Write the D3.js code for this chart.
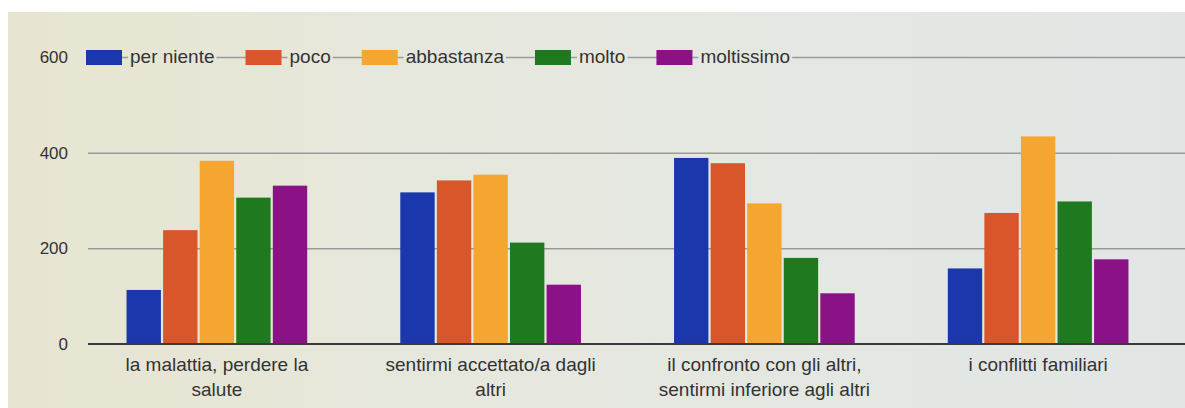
<!DOCTYPE html>
<html>
<head>
<meta charset="utf-8">
<script src="https://cdn.jsdelivr.net/npm/d3@7"></script>
<style>
  html, body { margin: 0; padding: 0; background: #ffffff; }
  svg { display: block; }
  text { font-family: "Liberation Sans", Arial, sans-serif; fill: #333; }
</style>
</head>
<body>
<svg id="chart" width="1185" height="408"></svg>
<script>
// ---- data ----
const categories = [
  "la malattia, perdere la\nsalute",
  "sentirmi accettato/a dagli\naltri",
  "il confronto con gli altri,\nsentirmi inferiore agli altri",
  "i conflitti familiari"
];
const seriesNames = ["per niente", "poco", "abbastanza", "molto", "moltissimo"];
const perNiente  = [113, 317, 389, 158];
const poco       = [238, 342, 378, 274];
const abbastanza = [383, 354, 294, 434];
const molto      = [306, 212, 180, 298];
const moltissimo = [331, 124, 106, 177];
const yTicks = [0, 200, 400, 600];

const seriesValues = [perNiente, poco, abbastanza, molto, moltissimo];
const colors = ["#1a38ac", "#d9562a", "#f4a631", "#1f7a1f", "#8a1186"];

// ---- layout ----
const W = 1185, H = 408;
const svg = d3.select("#chart");

const defs = svg.append("defs");
const grad = defs.append("linearGradient")
  .attr("id", "bg").attr("gradientUnits", "userSpaceOnUse")
  .attr("x1", 0).attr("y1", 0).attr("x2", W).attr("y2", 0);
grad.append("stop").attr("offset", "0").attr("stop-color", "#e7e5d1");
grad.append("stop").attr("offset", "0.45").attr("stop-color", "#e6e8df");
grad.append("stop").attr("offset", "1").attr("stop-color", "#e1e6e5");

svg.append("rect").attr("x", 8).attr("y", 12).attr("width", W - 8).attr("height", H - 12)
  .attr("fill", "url(#bg)");

const y = d3.scaleLinear().domain([0, 600]).range([344, 57]);
const x0 = d3.scaleBand().domain(categories).range([80, 1175]).paddingInner(0.34).paddingOuter(0.17);
const x1 = d3.scaleBand().domain(seriesNames).range([0, x0.bandwidth()]).paddingInner(0.06);
const color = d3.scaleOrdinal().domain(seriesNames).range(colors);

// gridlines
const yAxisGrid = d3.axisLeft(y).tickValues(yTicks.filter(t => t > 0)).tickSize(-(W - 88)).tickFormat("");
const grid = svg.append("g").attr("transform", "translate(88,0)").call(yAxisGrid);
grid.select(".domain").remove();
grid.selectAll("line").attr("stroke", "#9a9a9a").attr("stroke-width", 1.5);

// y tick labels
const yAxis = d3.axisLeft(y).tickValues(yTicks).tickSize(0).tickPadding(0);
const ya = svg.append("g").attr("transform", "translate(68,0)").call(yAxis);
ya.select(".domain").remove();
ya.selectAll("text").attr("font-size", 17).attr("fill", "#333")
  .style("font-family", "'Liberation Sans', Arial, sans-serif");

// bars
const rows = categories.map((c, i) => ({ cat: c, vals: seriesNames.map((s, j) => ({ s, v: seriesValues[j][i] })) }));
const groups = svg.append("g").selectAll("g").data(rows).join("g")
  .attr("transform", d => `translate(${x0(d.cat)},0)`);
groups.selectAll("rect").data(d => d.vals).join("rect")
  .attr("x", d => x1(d.s))
  .attr("width", x1.bandwidth())
  .attr("y", d => y(d.v))
  .attr("height", d => y(0) - y(d.v))
  .attr("fill", d => color(d.s));

// baseline
svg.append("line").attr("x1", 88).attr("x2", W).attr("y1", y(0)).attr("y2", y(0))
  .attr("stroke", "#3a3a3a").attr("stroke-width", 2);

// x labels
const xAxis = d3.axisBottom(x0).tickSize(0).tickFormat("");
const xa = svg.append("g").attr("transform", `translate(0,${y(0)})`).call(xAxis);
xa.select(".domain").remove();
xa.selectAll(".tick").each(function(d) {
  const t = d3.select(this).append("text").attr("text-anchor", "middle")
    .attr("font-size", 19).attr("fill", "#333");
  d.split("\n").forEach((line, k) => {
    t.append("tspan").attr("x", 0).attr("y", 27 + k * 25).text(line);
  });
});

// legend
const ly = y(600);
const legend = svg.append("g");
let lx = 86;
seriesNames.forEach((s, i) => {
  const g = legend.append("g");
  g.append("rect").attr("x", lx).attr("y", ly - 7).attr("width", 36).attr("height", 15)
    .attr("fill", color(s));
  const tx = lx + 44;
  const txt = g.append("text").attr("x", tx).attr("y", ly + 6).attr("font-size", 19)
    .attr("fill", "#333").text(s);
  const w = txt.node().getComputedTextLength();
  g.insert("rect", "text").attr("x", tx - 2).attr("y", ly - 12).attr("width", w + 4).attr("height", 22)
    .attr("fill", "url(#bg)");
  lx = tx + w + 31;
});
</script>
</body>
</html>
